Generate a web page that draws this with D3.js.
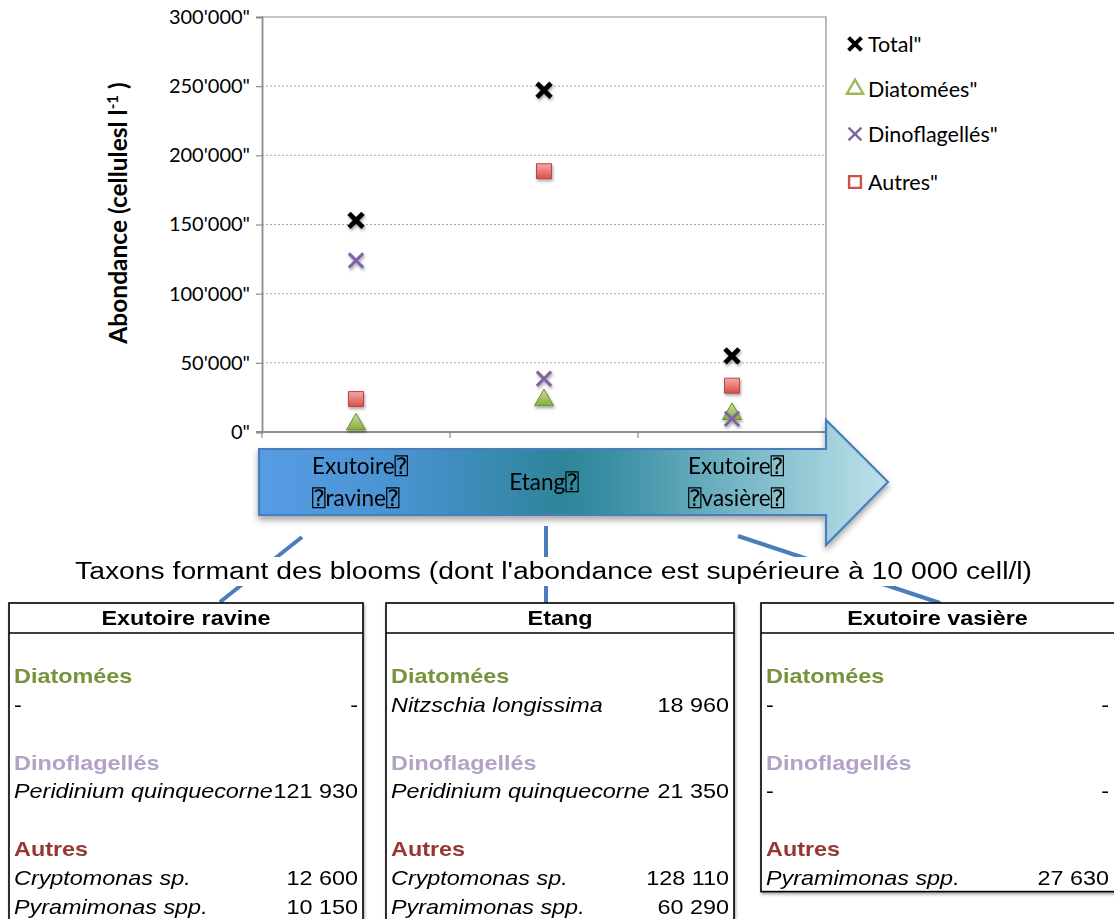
<!DOCTYPE html>
<html><head><meta charset="utf-8">
<script src="https://cdn.jsdelivr.net/npm/d3@7"></script>
<style>body{margin:0;background:#fff;} svg{display:block}</style>
</head><body>
<svg id="c" width="1114" height="919"></svg>
<script>
// Sites along the water path
const sites = ["Exutoire ravine", "Etang", "Exutoire vasière"];
const arrowLabels = [["Exutoire⍰", "⍰ravine⍰"], ["Etang⍰"], ["Exutoire⍰", "⍰vasière⍰"]];
// Abundance (cells per litre) by group
const totalValues = [153000, 247000, 55000];
const diatomValues = [5500, 23000, 13000];
const dinoValues = [124000, 38500, 9500];
const autresValues = [23800, 188500, 33500];
const seriesNames = ["Total", "Diatomées", "Dinoflagellés", "Autres"];
const yTicks = [0, 50000, 100000, 150000, 200000, 250000, 300000];

// Bloom-forming taxa (> 10 000 cell/l) per site
const tableTitle = "Taxons formant des blooms (dont l'abondance est supérieure à 10 000 cell/l)";
const groupNames = ["Diatomées", "Dinoflagellés", "Autres"];
const diatomTaxa = [[], [["Nitzschia longissima", 18960]], []];
const dinoTaxa = [[["Peridinium quinquecorne", 121930]], [["Peridinium quinquecorne", 21350]], []];
const autresTaxa = [
  [["Cryptomonas sp.", 12600], ["Pyramimonas spp.", 10150]],
  [["Cryptomonas sp.", 128110], ["Pyramimonas spp.", 60290]],
  [["Pyramimonas spp.", 27630]]
];

const svg = d3.select("#c");
const defs = svg.append("defs");

const chartFont = "Lato, 'DejaVu Sans', sans-serif";
const tableFont = "'Liberation Sans', Arial, sans-serif";

// ---------- scales ----------
const plot = {left: 262, right: 826, top: 17, bottom: 432};
const x = d3.scaleBand().domain(sites).range([plot.left, plot.right]);
const y = d3.scaleLinear().domain([0, 300000]).range([plot.bottom, plot.top]);

const locale = d3.formatLocale({decimal: ".", thousands: "'", grouping: [3], currency: ["", ""]});
const tickFmt = d => locale.format(",")(d) + '"';
const spaceFmt = d3.formatLocale({decimal: ",", thousands: " ", grouping: [3], currency: ["", ""]}).format(",");

// ---------- defs ----------
const shadow = defs.append("filter").attr("id", "shadow").attr("x", "-50%").attr("y", "-50%").attr("width", "200%").attr("height", "200%");
shadow.append("feDropShadow").attr("dx", 1).attr("dy", 2).attr("stdDeviation", 1.4).attr("flood-color", "#000").attr("flood-opacity", 0.35);

const arrowShadow = defs.append("filter").attr("id", "arrowShadow").attr("x", "-10%").attr("y", "-30%").attr("width", "120%").attr("height", "170%");
arrowShadow.append("feDropShadow").attr("dx", 0).attr("dy", 4).attr("stdDeviation", 3).attr("flood-color", "#000").attr("flood-opacity", 0.35);

const sqGrad = defs.append("linearGradient").attr("id", "sqGrad").attr("x1", 0).attr("y1", 0).attr("x2", 0).attr("y2", 1);
sqGrad.append("stop").attr("offset", "0%").attr("stop-color", "#F4A9A6");
sqGrad.append("stop").attr("offset", "100%").attr("stop-color", "#D94F4C");
const triGrad = defs.append("linearGradient").attr("id", "triGrad").attr("x1", 0).attr("y1", 0).attr("x2", 0).attr("y2", 1);
triGrad.append("stop").attr("offset", "0%").attr("stop-color", "#C9DE9E");
triGrad.append("stop").attr("offset", "100%").attr("stop-color", "#86AC3C");

const arrowGrad = defs.append("linearGradient").attr("id", "arrowGrad").attr("x1", 0).attr("y1", 0).attr("x2", 1).attr("y2", 0);
[["0%", "#579CE4"], ["22%", "#4A93D2"], ["48%", "#2E849A"], ["56%", "#3A8FA4"], ["78%", "#7BB9C8"], ["100%", "#BDE2EB"]]
  .forEach(([o, c]) => arrowGrad.append("stop").attr("offset", o).attr("stop-color", c));

// ---------- gridlines ----------
svg.append("g").selectAll("line").data(yTicks.filter(d => d > 0 && d < 300000)).join("line")
  .attr("x1", plot.left).attr("x2", plot.right)
  .attr("y1", d => y(d)).attr("y2", d => y(d))
  .attr("stroke", "#A6A6A6").attr("stroke-width", 1).attr("stroke-dasharray", "2,2");

// plot frame (top and right)
svg.append("path")
  .attr("d", `M${plot.left},${y(300000)}H${plot.right}V${plot.bottom}`)
  .attr("fill", "none").attr("stroke", "#8C8C8C").attr("stroke-width", 1.2);

// ---------- y axis ----------
const yAxis = svg.append("g").attr("transform", `translate(${plot.left},0)`)
  .call(d3.axisLeft(y).tickValues(yTicks).tickSize(6).tickPadding(6).tickFormat(tickFmt));
yAxis.select(".domain").attr("stroke", "#8C8C8C").attr("stroke-width", 1.8);
yAxis.selectAll(".tick line").attr("stroke", "#8C8C8C").attr("stroke-width", 1.2);
yAxis.selectAll(".tick text").attr("font-family", chartFont).attr("font-size", 20).attr("fill", "#000");

// ---------- x axis ----------
const xBounds = sites.map(s => x(s)).concat([x.range()[1]]);
svg.append("line").attr("x1", plot.left - 6).attr("x2", plot.right)
  .attr("y1", y(0)).attr("y2", y(0)).attr("stroke", "#8C8C8C").attr("stroke-width", 1.8);
svg.append("g").selectAll("line").data(xBounds).join("line")
  .attr("x1", d => d).attr("x2", d => d)
  .attr("y1", y(0)).attr("y2", y(0) + 6)
  .attr("stroke", "#8C8C8C").attr("stroke-width", 1.2);

// y title
const yTitle = svg.append("text")
  .attr("transform", `translate(127,213) rotate(-90)`)
  .attr("text-anchor", "middle").attr("font-family", chartFont).attr("font-weight", "bold")
  .attr("font-size", 24.5).attr("fill", "#000");
yTitle.append("tspan").text("Abondance (cellulesl l");
yTitle.append("tspan").attr("font-size", 15).attr("dy", -9).text("-1");
yTitle.append("tspan").attr("dy", 9).text(" )");

// ---------- markers ----------
const cx = s => x(s) + x.bandwidth() / 2;
const xSym = d3.symbol(d3.symbolX, 135);
const triSym = d3.symbol(d3.symbolTriangle, 160);
const sqSym = d3.symbol(d3.symbolSquare, 225);

const marks = svg.append("g").attr("filter", "url(#shadow)");
// Autres
marks.selectAll(".autres").data(sites).join("path").attr("class", "autres")
  .attr("d", sqSym).attr("transform", (s, i) => `translate(${cx(s)},${y(autresValues[i])})`)
  .attr("fill", "url(#sqGrad)").attr("stroke", "#B84744").attr("stroke-width", 1).attr("stroke-linejoin", "round");
// Diatomées
marks.selectAll(".diat").data(sites).join("path").attr("class", "diat")
  .attr("d", triSym).attr("transform", (s, i) => `translate(${cx(s)},${y(diatomValues[i])})`)
  .attr("fill", "url(#triGrad)").attr("stroke", "#71893F").attr("stroke-width", 1);
// Dinoflagellés
marks.selectAll(".dino").data(sites).join("path").attr("class", "dino")
  .attr("d", xSym).attr("transform", (s, i) => `translate(${cx(s)},${y(dinoValues[i])})`)
  .attr("fill", "none").attr("stroke", "#7E63A6").attr("stroke-width", 3);
// Total
marks.selectAll(".total").data(sites).join("path").attr("class", "total")
  .attr("d", d3.symbol(d3.symbolX, 130)).attr("transform", (s, i) => `translate(${cx(s)},${y(totalValues[i])})`)
  .attr("fill", "none").attr("stroke", "#000").attr("stroke-width", 4.8);

// ---------- legend ----------
const legendY = [44, 89, 134, 182];
const legend = svg.append("g");
const lg = legend.selectAll("g").data(seriesNames).join("g")
  .attr("transform", (d, i) => `translate(855,${legendY[i]})`);
lg.each(function (d, i) {
  const g = d3.select(this);
  if (i === 0) g.append("path").attr("d", d3.symbol(d3.symbolX, 110)).attr("fill", "none").attr("stroke", "#000").attr("stroke-width", 4);
  if (i === 1) g.append("path").attr("d", d3.symbol(d3.symbolTriangle, 115)).attr("fill", "none").attr("stroke", "#9BBB59").attr("stroke-width", 2.4);
  if (i === 2) g.append("path").attr("d", d3.symbol(d3.symbolX, 110)).attr("fill", "none").attr("stroke", "#8064A2").attr("stroke-width", 2.4);
  if (i === 3) g.append("path").attr("d", d3.symbol(d3.symbolSquare, 140)).attr("fill", "none").attr("stroke", "#D0504D").attr("stroke-width", 2.4);
});
lg.append("text").attr("x", 13).attr("dy", "0.36em")
  .attr("font-family", chartFont).attr("font-size", 21.5).attr("fill", "#000")
  .text(d => d + '"');

// ---------- arrow ----------
const aL = plot.left - 3, aR = plot.right, aTip = 888;
const aTop = 449, aBot = 515, hTop = 420, hBot = 545, aMid = (aTop + aBot) / 2;
svg.append("path")
  .attr("d", `M${aL},${aTop}H${aR}V${hTop}L${aTip},${aMid}L${aR},${hBot}V${aBot}H${aL}Z`)
  .attr("fill", "url(#arrowGrad)").attr("stroke", "#4A7EBB").attr("stroke-width", 2.2)
  .attr("stroke-linejoin", "miter").attr("filter", "url(#arrowShadow)");

const arrowText = svg.append("g").attr("font-family", chartFont + ", 'DejaVu Sans Mono'").attr("font-size", 22.5).attr("fill", "#000");
arrowLabels.forEach((lines, i) => {
  const c = cx(sites[i]);
  const multi = lines.length > 1;
  const t = arrowText.append("text").attr("text-anchor", multi ? "start" : "middle");
  lines.forEach((ln, j) => {
    const startY = multi ? aMid - 16 : aMid;
    t.append("tspan").attr("x", multi ? c - 44 : c)
      .attr("y", startY + j * 32).attr("dy", "0.35em").text(ln);
  });
});

// ---------- connectors ----------
const conn = svg.append("g").attr("stroke", "#4A7EBB").attr("stroke-width", 4).attr("fill", "none");
conn.append("line").attr("x1", 302).attr("y1", 537).attr("x2", 220).attr("y2", 602);
conn.append("line").attr("x1", 546).attr("y1", 526).attr("x2", 546).attr("y2", 603);
conn.append("line").attr("x1", 738).attr("y1", 536).attr("x2", 940).attr("y2", 603);

// ---------- title band ----------
svg.append("rect").attr("x", 72).attr("y", 557).attr("width", 964).attr("height", 29).attr("fill", "#fff");
svg.append("text").attr("x", 75).attr("y", 579)
  .attr("font-family", tableFont).attr("font-size", 23.5).attr("fill", "#000")
  .attr("textLength", 957).attr("lengthAdjust", "spacingAndGlyphs")
  .text(tableTitle);

// ---------- tables ----------
const tableX = [[9, 363], [386, 734], [761, 1117]];
const groupColors = ["#77933C", "#B3A2C7", "#953735"];
const taxaByGroup = [diatomTaxa, dinoTaxa, autresTaxa];
const tTop = 603, tHead = 30, rowStart = 676, rowStep = 28.8, sx = 1.17;

sites.forEach((site, i) => {
  const [x0, x1] = tableX[i];
  const lines = [];
  groupNames.forEach((g, gi) => {
    if (gi > 0) lines.push({type: "blank"});
    lines.push({type: "group", text: g, color: groupColors[gi]});
    const taxa = taxaByGroup[gi][i];
    if (taxa.length === 0) lines.push({type: "dash"});
    taxa.forEach(([name, v]) => lines.push({type: "taxon", name, v}));
  });
  const lastY = rowStart + (lines.length - 1) * rowStep;
  const tg = svg.append("g");
  tg.append("rect").attr("x", x0).attr("y", tTop).attr("width", x1 - x0).attr("height", lastY + 14 - tTop)
    .attr("fill", "#fff").attr("stroke", "#000").attr("stroke-width", 1.6)
    .attr("filter", "url(#shadow)");
  tg.append("line").attr("x1", x0).attr("x2", x1).attr("y1", tTop + tHead).attr("y2", tTop + tHead)
    .attr("stroke", "#000").attr("stroke-width", 1.6);
  const txt = (xx, yy, anchor) => tg.append("text")
    .attr("transform", `translate(${xx},${yy}) scale(${sx},1)`)
    .attr("text-anchor", anchor).attr("dy", "0.36em")
    .attr("font-family", tableFont).attr("font-size", 20).attr("fill", "#000");
  const visRight = Math.min(x1, 1114);
  txt((x0 + visRight) / 2, tTop + tHead / 2, "middle").attr("font-weight", "bold").text(site);
  const lx = x0 + 5, rx = visRight - 5;
  lines.forEach((ln, k) => {
    const yy = rowStart + k * rowStep;
    if (ln.type === "group") txt(lx, yy, "start").attr("font-weight", "bold").attr("fill", ln.color).text(ln.text);
    if (ln.type === "dash") { txt(lx, yy, "start").text("-"); txt(rx, yy, "end").text("-"); }
    if (ln.type === "taxon") {
      txt(lx, yy, "start").attr("font-style", "italic").text(ln.name);
      txt(rx, yy, "end").text(spaceFmt(ln.v));
    }
  });
});
</script>
</body></html>
